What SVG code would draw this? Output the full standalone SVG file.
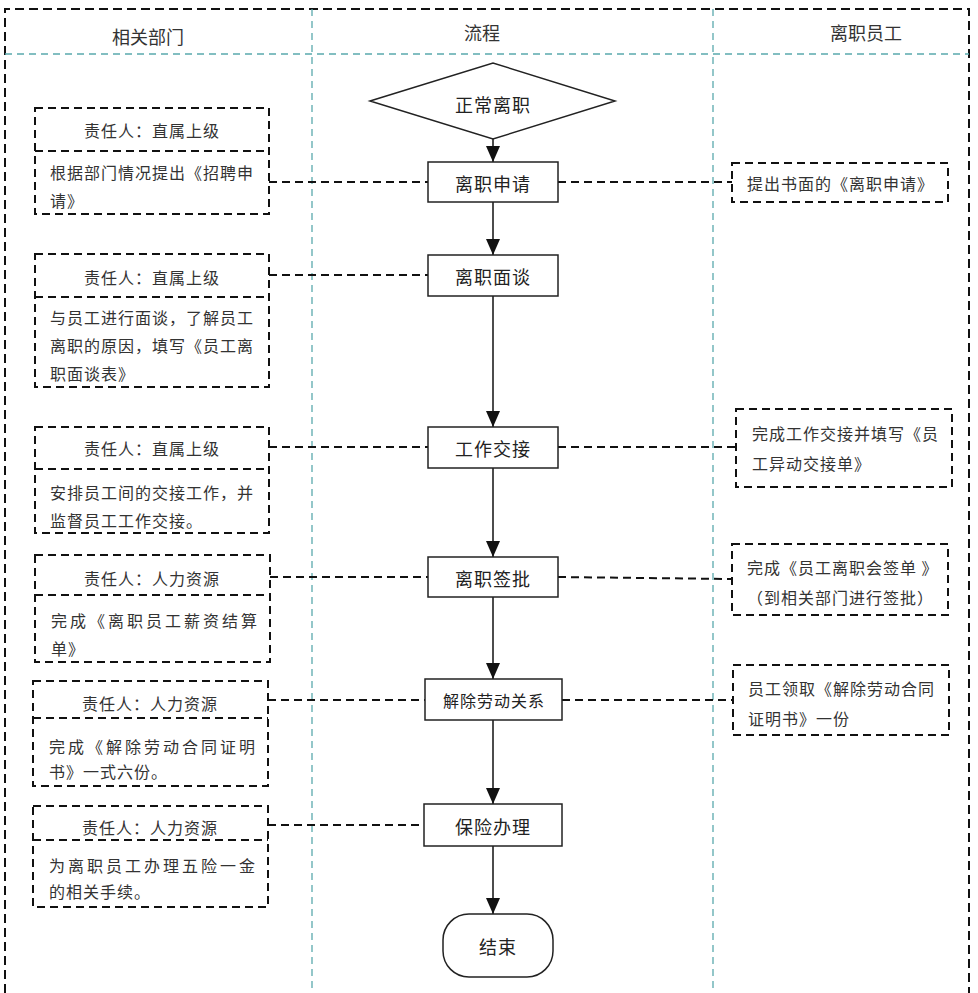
<svg xmlns="http://www.w3.org/2000/svg" width="978" height="993" viewBox="0 0 978 993">
<defs>
<style>
text{font-family:"Noto Sans CJK SC","Noto Sans",sans-serif;fill:#333;dominant-baseline:central}
.hd{font-size:18px;text-anchor:middle}
.mt{font-size:18px;text-anchor:middle;letter-spacing:1px;fill:#222}
.sm{font-size:16px;text-anchor:middle;letter-spacing:1px;fill:#222}
.bt{font-size:16px;letter-spacing:1px}
.wide{letter-spacing:3px}
.ch{font-size:16px;text-anchor:middle;letter-spacing:1px}
.frame{fill:none;stroke:#111;stroke-width:2;stroke-dasharray:9 5}
.lane{fill:none;stroke:#5aa9ad;stroke-width:1.3;stroke-dasharray:7 5}
.db{fill:#fff;stroke:#111;stroke-width:2;stroke-dasharray:8 5}
.dv{fill:none;stroke:#111;stroke-width:2;stroke-dasharray:8 5}
.box{fill:#fff;stroke:#222;stroke-width:1.5}
.flow{fill:none;stroke:#111;stroke-width:1.5}
.link{fill:none;stroke:#111;stroke-width:2;stroke-dasharray:8 5}
</style>
<marker id="ah" markerWidth="16" markerHeight="14" refX="16" refY="7" orient="auto" markerUnits="userSpaceOnUse"><path d="M0,0 L16,7 L0,14 z" fill="#111"/></marker>
</defs>
<rect width="978" height="993" fill="#fff"/>
<g id="lanes">
<path class="frame" d="M5,993 V9 H969 V993"/>
<line class="lane" x1="5" y1="54" x2="969" y2="54"/>
<line class="lane" x1="312" y1="9" x2="312" y2="993"/>
<line class="lane" x1="713" y1="9" x2="713" y2="993"/>
<text class="hd" x="148" y="36">相关部门</text>
<text class="hd" x="482" y="32">流程</text>
<text class="hd" x="866" y="32">离职员工</text>
</g>
<g id="connectors">
<line class="link" x1="269" y1="182" x2="428" y2="182"/>
<line class="link" x1="558" y1="182" x2="732" y2="182"/>
<line class="link" x1="269" y1="275" x2="428" y2="275"/>
<line class="link" x1="269" y1="447" x2="428" y2="447"/>
<line class="link" x1="558" y1="447" x2="736" y2="447"/>
<line class="link" x1="270" y1="577" x2="428" y2="577"/>
<line class="link" x1="558" y1="577" x2="732" y2="579"/>
<line class="link" x1="268" y1="700" x2="425" y2="700"/>
<line class="link" x1="562" y1="700" x2="733" y2="700"/>
<line class="link" x1="268" y1="825" x2="424" y2="825"/>
<line class="flow" x1="493" y1="139" x2="493" y2="162" marker-end="url(#ah)"/>
<line class="flow" x1="493" y1="202" x2="493" y2="255" marker-end="url(#ah)"/>
<line class="flow" x1="493" y1="296" x2="493" y2="427" marker-end="url(#ah)"/>
<line class="flow" x1="493" y1="468" x2="493" y2="557" marker-end="url(#ah)"/>
<line class="flow" x1="493" y1="597" x2="493" y2="679" marker-end="url(#ah)"/>
<line class="flow" x1="493" y1="720" x2="493" y2="804" marker-end="url(#ah)"/>
<line class="flow" x1="493" y1="846" x2="493" y2="914" marker-end="url(#ah)"/>
</g>
<g id="start">
<polygon class="box" points="370,101 493,63 615,101 493,139"/>
<text class="mt" x="493" y="104">正常离职</text>
</g>
<g id="p1"><rect class="box" x="428" y="162" width="130" height="40"/><text class="mt" x="493" y="183">离职申请</text></g>
<g id="p2"><rect class="box" x="428" y="255" width="130" height="41"/><text class="mt" x="493" y="276">离职面谈</text></g>
<g id="p3"><rect class="box" x="428" y="427" width="130" height="41"/><text class="mt" x="493" y="448">工作交接</text></g>
<g id="p4"><rect class="box" x="428" y="557" width="130" height="40"/><text class="mt" x="493" y="578">离职签批</text></g>
<g id="p5"><rect class="box" x="425" y="679" width="137" height="41"/><text class="sm" x="494" y="700">解除劳动关系</text></g>
<g id="p6"><rect class="box" x="424" y="804" width="138" height="42"/><text class="mt" x="493" y="826">保险办理</text></g>
<g id="end"><rect class="box" x="443" y="914" width="110" height="63" rx="26" ry="26"/><text class="mt" x="498" y="946">结束</text></g>

<g id="l1"><rect class="db" x="35" y="108" width="234" height="106"/><line class="dv" x1="35" y1="151" x2="269" y2="151"/>
<text class="ch" x="152" y="130">责任人：直属上级</text>
<text class="bt" x="50" y="172">根据部门情况提出《招聘申</text><text class="bt" x="50" y="200">请》</text></g>
<g id="l2"><rect class="db" x="35" y="254" width="234" height="133"/><line class="dv" x1="35" y1="297" x2="269" y2="297"/>
<text class="ch" x="152" y="277">责任人：直属上级</text>
<text class="bt" x="50" y="317">与员工进行面谈，了解员工</text><text class="bt" x="50" y="345">离职的原因，填写《员工离</text><text class="bt" x="50" y="373">职面谈表》</text></g>
<g id="l3"><rect class="db" x="35" y="427" width="234" height="106"/><line class="dv" x1="35" y1="469" x2="269" y2="469"/>
<text class="ch" x="152" y="448">责任人：直属上级</text>
<text class="bt" x="50" y="492">安排员工间的交接工作，并</text><text class="bt" x="50" y="520">监督员工工作交接。</text></g>
<g id="l4"><rect class="db" x="35" y="555" width="235" height="107"/><line class="dv" x1="35" y1="595" x2="270" y2="595"/>
<text class="ch" x="152" y="578">责任人：人力资源</text>
<text class="bt wide" x="51" y="620">完成《离职员工薪资结算</text><text class="bt" x="51" y="648">单》</text></g>
<g id="l5"><rect class="db" x="33" y="681" width="235" height="105"/><line class="dv" x1="33" y1="718" x2="268" y2="718"/>
<text class="ch" x="150" y="703">责任人：人力资源</text>
<text class="bt wide" x="49" y="746">完成《解除劳动合同证明</text><text class="bt" x="49" y="771">书》一式六份。</text></g>
<g id="l6"><rect class="db" x="33" y="806" width="235" height="101"/><line class="dv" x1="33" y1="840" x2="268" y2="840"/>
<text class="ch" x="150" y="827">责任人：人力资源</text>
<text class="bt wide" x="49" y="865">为离职员工办理五险一金</text><text class="bt" x="49" y="891">的相关手续。</text></g>

<g id="r1"><rect class="db" x="732" y="163" width="216" height="39"/><text class="bt" x="747" y="183">提出书面的《离职申请》</text></g>
<g id="r2"><rect class="db" x="736" y="409" width="216" height="78"/><text class="bt" x="752" y="433">完成工作交接并填写《员</text><text class="bt" x="752" y="463">工异动交接单》</text></g>
<g id="r3"><rect class="db" x="732" y="544" width="216" height="71"/><text class="bt" x="747" y="567">完成《员工离职会签单 》</text><text class="bt" x="747" y="597">（到相关部门进行签批）</text></g>
<g id="r4"><rect class="db" x="733" y="665" width="216" height="70"/><text class="bt" x="748" y="688">员工领取《解除劳动合同</text><text class="bt" x="748" y="718">证明书》一份</text></g>
</svg>
